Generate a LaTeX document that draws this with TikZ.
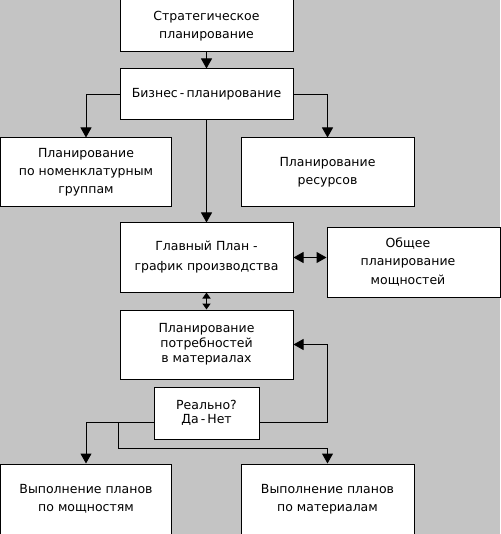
\documentclass[tikz,border=0pt]{standalone}
\usepackage{fontspec}
\setmainfont{DejaVu Sans}
\usetikzlibrary{arrows.meta}
\definecolor{bg}{HTML}{C4C4C4}
\tikzset{
  box/.style={draw=black, line width=1pt, fill=white, inner sep=0pt, align=center, font=\fontsize{12.5}{18}\selectfont},
  arr/.style={line width=1pt, -{Triangle[width=11pt,length=10pt]}},
  darr/.style={line width=1pt, {Triangle[width=11pt,length=10pt]}-{Triangle[width=11pt,length=10pt]}},
  sarr/.style={line width=1.5pt, {Triangle[width=8pt,length=6pt]}-{Triangle[width=8pt,length=6pt]}},
  ln/.style={line width=1pt},
  lbl/.style={inner sep=0pt, align=center, font=\fontsize{12.5}{18}\selectfont}
}
\begin{document}
\begin{tikzpicture}[x=1pt,y=-1pt]
\fill[bg] (0,0) rectangle (500,534);
\useasboundingbox (0,0) rectangle (500,534);
\node[box, minimum width=173pt, minimum height=52pt] (b1) at (206.5,26) {Стратегическое\\планирование};
\node[box, minimum width=173pt, minimum height=51pt] (b2) at (206.5,94.5) {Бизнес\,-\,планирование};
\node[box, minimum width=171pt, minimum height=69pt] (b3) at (86,172.5) {Планирование\\по номенклатурным\\группам};
\node[box, minimum width=173pt, minimum height=69pt] (b4) at (327.5,172.5) {Планирование\\ресурсов};
\node[box, minimum width=173pt, minimum height=69pt, font=\fontsize{12.5}{20}\selectfont] (b5) at (206.5,257.5) {Главный План -\\график  производства};
\node[box, minimum width=173pt, minimum height=70pt] (b6) at (413.5,262) {};
\node[lbl, font=\fontsize{12.5}{18.5}\selectfont] (t6) at (408,262) {Общее\\планирование\\мощностей};
\node[box, minimum width=173pt, minimum height=69pt, font=\fontsize{12.5}{15}\selectfont] (b7) at (206.5,344.5) {Планирование\\потребностей\\в  материалах};
\node[box, minimum width=105pt, minimum height=52pt, font=\fontsize{12.5}{14}\selectfont] (b8) at (206.5,413) {Реально?\\Да\,-\,Нет};
\node[box, minimum width=171pt, minimum height=70pt] (b9) at (86,499) {Выполнение планов\\по  мощностям};
\node[box, minimum width=173pt, minimum height=70pt] (b10) at (327.5,499) {Выполнение планов\\по  материалам};
\coordinate (r) at (327.5,422);
\coordinate (br) at (118,422);
\coordinate (brd) at (118,448);
\draw[arr] (b1.south) -- (b2.north);
\draw[arr] (b2.west) -| (b3.north);
\draw[arr] (b2.east) -| (b4.north);
\draw[arr] (b2.south) -- (b5.north);
\draw[darr] (b5.east) -- (b5.east -| b6.west);
\draw[sarr] (b5.south) -- (b7.north);
\draw[arr] ([yshift=-9pt]b8.east) -- (r) |- (b7.east);
\draw[arr] ([yshift=-9pt]b8.west) -| (b9.north);
\draw[arr] (br) -- (brd) -| (b10.north);
\end{tikzpicture}
\end{document}
